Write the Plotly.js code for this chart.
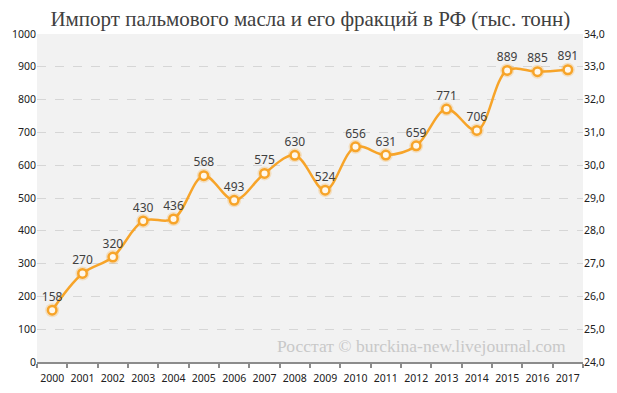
<!DOCTYPE html>
<html><head><meta charset="utf-8">
<script src="https://cdn.plot.ly/plotly-3.0.1.min.js"></script>
<style>html,body{margin:0;padding:0;background:#fff}#c{width:617px;height:393px}</style>
</head><body><div id="c"></div>
<script>
const years = ["2000","2001","2002","2003","2004","2005","2006","2007","2008","2009","2010","2011","2012","2013","2014","2015","2016","2017"];
const imports = [158,270,320,430,436,568,493,575,630,524,656,631,659,771,706,889,885,891];
const leftTicks = [0,100,200,300,400,500,600,700,800,900,1000];
const rightTickVals = [24,25,26,27,28,29,30,31,32,33,34];
const rightTickText = ["24,0","25,0","26,0","27,0","28,0","29,0","30,0","31,0","32,0","33,0","34,0"];
const titleText = "Импорт пальмового масла и его фракций в РФ (тыс. тонн)";
const watermark = "Росстат © burckina-new.livejournal.com";

const orange = "#f7a429";
const tickFont = {family: "Noto Sans, sans-serif", size: 10.5, color: "#202020"};
const traces = [
  {x: years, y: imports, type: "scatter", mode: "markers", hoverinfo: "skip",
   marker: {size: 14, color: "rgba(247,164,41,0.25)", line: {width: 0}}, showlegend: false},
  {x: years, y: imports, type: "scatter", mode: "lines+markers+text",
   line: {shape: "spline", smoothing: 1, color: orange, width: 2.5},
   marker: {size: 8.5, color: "#fff8ec", line: {color: orange, width: 2.5}},
   text: imports.map(String), textposition: "top center",
   textfont: {family: "Noto Sans, sans-serif", size: 12, color: "#404040"},
   cliponaxis: false, showlegend: false},
  {x: years, y: imports.map(() => null), yaxis: "y2", type: "scatter", mode: "lines", showlegend: false, hoverinfo: "skip"}
];

const layout = {
  width: 617, height: 393,
  margin: {l: 37, r: 34, t: 34, b: 31},
  paper_bgcolor: "#ffffff", plot_bgcolor: "#f2f2f2",
  title: {text: titleText, x: 0.503, xanchor: "center", y: 0.952, yanchor: "middle",
          font: {family: "Liberation Serif, serif", size: 21, color: "#404040"}},
  xaxis: {type: "category", range: [-0.5, 17.5], showgrid: false, zeroline: false,
          showline: true, linecolor: "#8c8c8c", linewidth: 2, tickangle: 0,
          ticks: "outside", tickson: "boundaries", ticklen: 4, tickwidth: 2, tickcolor: "#8c8c8c",
          ticklabelstandoff: 5, tickfont: tickFont, fixedrange: true},
  yaxis: {range: [0, 1000], tickvals: leftTicks, showgrid: true, gridcolor: "#d6d6d6", griddash: "dash",
          gridwidth: 1, zeroline: false, showline: false, ticks: "",
          tickfont: tickFont, fixedrange: true},
  yaxis2: {overlaying: "y", side: "right", range: [24, 34], tickvals: rightTickVals, ticktext: rightTickText,
           showgrid: false, zeroline: false, showline: false, ticks: "",
           tickfont: tickFont, fixedrange: true},
  annotations: [{xref: "paper", yref: "paper", x: 0.972, y: 0.05, xanchor: "right", yanchor: "middle",
                 text: watermark, showarrow: false,
                 font: {family: "Liberation Serif, serif", size: 17.5, color: "#c8c8c8"}}]
};
Plotly.newPlot("c", traces, layout, {displayModeBar: false, staticPlot: true});
</script></body></html>
